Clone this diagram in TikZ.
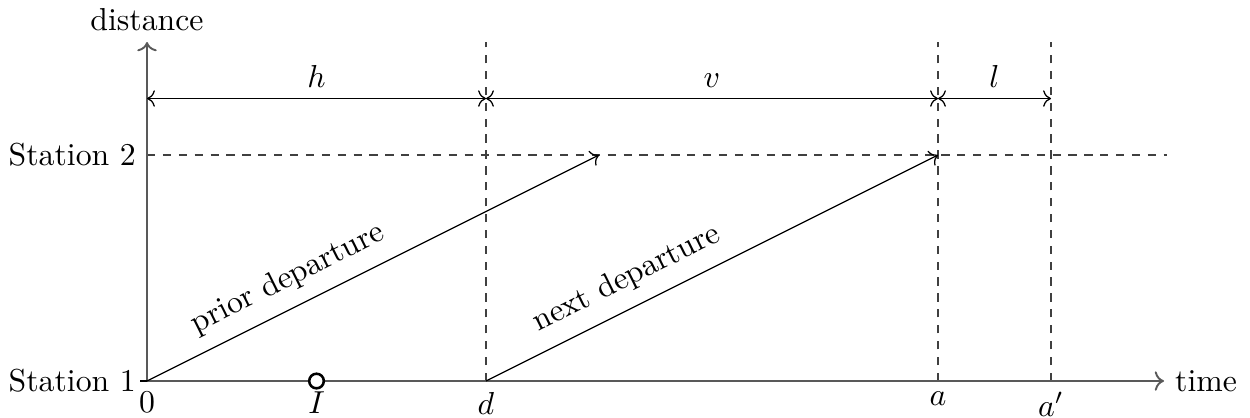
\documentclass[tikz,border=0pt]{standalone}
\usetikzlibrary{arrows.meta}
\begin{document}
\begin{tikzpicture}[x=1.25cm,y=1.25cm,
  axisline/.style={draw=black!65, line width=0.6pt, ->},
  guide/.style={draw=black!75, dash pattern=on 2.6pt off 2.4pt},
  dimline/.style={<->},
  trip/.style={->},
  triplabel/.style={pos=0.34, above=1pt, sloped},
  marker/.style={circle, draw, line width=0.8pt, fill=white, minimum size=4.6pt, inner sep=0pt}
]
\useasboundingbox (-1.301,-0.319) rectangle (9.761,3.372);
% coordinates
\coordinate (O) at (0,0);
\coordinate (xend) at (9,0);
\coordinate (yend) at (0,3);
\coordinate (tick) at (-0.06,0);
\coordinate (d) at (3,0);
\coordinate (a) at (7,0);
\coordinate (ap) at (8,0);
\coordinate (dT) at (3,3);
\coordinate (aT) at (7,3);
\coordinate (apT) at (8,3);
\coordinate (s2) at (0,2);
\coordinate (s2e) at (9.03,2);
\coordinate (p2) at (4,2);
\coordinate (n2) at (7,2);
\coordinate (h0) at (0,2.5);
\coordinate (h1) at (3,2.5);
\coordinate (h2) at (7,2.5);
\coordinate (h3) at (8,2.5);
% guides
\draw[guide] (d) -- (dT);
\draw[guide] (a) -- (aT);
\draw[guide] (ap) -- (apT);
\draw[guide] (s2) -- (s2e);
% axes
\draw[axisline] (O) -- (xend);
\draw[axisline] (O) -- (yend);
\draw (tick) -- (O);
\node[right] (time) at (xend) {time};
\node[above] (dist) at (yend) {distance};
\node[left] (st1) at (O) {Station 1};
\node[left] (st2) at (s2) {Station 2};
% dimensions
\draw[dimline] (h0) -- node[above] (hl) {$h$} (h1);
\draw[dimline] (h1) -- node[above] (vl) {$v$} (h2);
\draw[dimline] (h2) -- node[above] (ll) {$l$} (h3);
% trips
\draw[trip] (O) -- node[triplabel] (pl) {prior departure} (p2);
\draw[trip] (d) -- node[triplabel] (nl) {next departure} (n2);
% marker and tick labels
\node[marker] (Ic) at (1.5,0) {};
\node[below] (Il) at (1.5,0) {$I$};
\node[below] (zl) at (O) {$0$};
\node[below] (dl) at (d) {$d$};
\node[below] (al) at (a) {$a$};
\node[below] (apl) at (ap) {$a'$};
\end{tikzpicture}
\end{document}
